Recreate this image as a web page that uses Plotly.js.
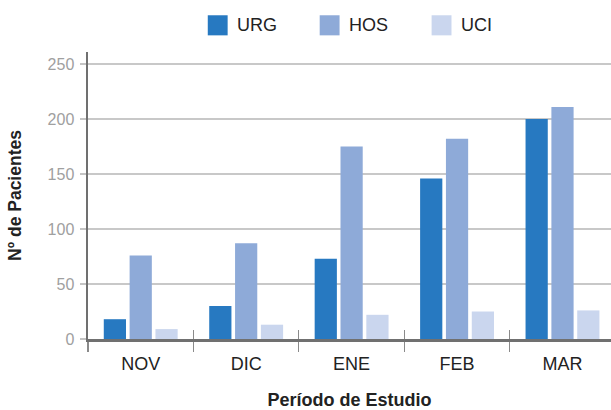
<!DOCTYPE html>
<html>
<head>
<meta charset="utf-8">
<script src="https://cdn.plot.ly/plotly-3.0.1.min.js"></script>
<style>html,body{margin:0;padding:0;background:#fff;}#chart{width:611px;height:410px;}</style>
</head>
<body>
<div id="chart"></div>
<script>
const categories = ["NOV", "DIC", "ENE", "FEB", "MAR"];
const seriesNames = ["URG", "HOS", "UCI"];
const urg = [18, 30, 73, 146, 200];
const hos = [76, 87, 175, 182, 211];
const uci = [9, 13, 22, 25, 26];
const yTicks = [0, 50, 100, 150, 200, 250];
const colors = ["#2779c1", "#8eaad8", "#cad6ee"];

const values = [urg, hos, uci];
const FONT = "Liberation Sans, Arial, Helvetica, sans-serif";

const traces = seriesNames.map((name, i) => ({
  type: "bar",
  name: name,
  x: categories,
  y: values[i],
  marker: { color: colors[i], line: { width: 0 } },
  hoverinfo: "x+y+name"
}));
// invisible trace on overlay axis for inside boundary ticks
traces.push({
  type: "bar", x: categories, y: categories.map(() => 0), xaxis: "x2",
  showlegend: false, hoverinfo: "skip", marker: { color: "rgba(0,0,0,0)" }
});

// custom legend (larger squares)
const legendX0 = 0.229, legendStep = 0.214;
const shapes = [], annotations = [];
seriesNames.forEach((name, i) => {
  const lx = legendX0 + i * legendStep;
  shapes.push({
    type: "rect", xref: "paper", yref: "paper",
    x0: lx, x1: lx + 0.038, y0: 1.058, y1: 1.128,
    fillcolor: colors[i], line: { width: 0 }
  });
  annotations.push({
    xref: "paper", yref: "paper", x: lx + 0.052, y: 1.093,
    xanchor: "left", yanchor: "middle", showarrow: false,
    text: name, font: { family: FONT, size: 18, color: "#222" }
  });
});

const layout = {
  width: 611, height: 410,
  margin: { l: 88, r: 0, t: 52, b: 71 },
  paper_bgcolor: "#fff", plot_bgcolor: "#fff",
  showlegend: false,
  barmode: "group",
  bargap: 0.265,
  bargroupgap: 0.14,
  font: { family: FONT, color: "#222" },
  xaxis: {
    type: "category",
    range: [-0.5, 4.46],
    showline: true, linecolor: "#707070", linewidth: 2.5,
    ticks: "outside", tickson: "boundaries", ticklen: 10, tickwidth: 1.2, tickcolor: "#8a8a8a",
    ticklabelstandoff: 7,
    tickfont: { family: FONT, size: 18, color: "#222" },
    showgrid: false, zeroline: false,
    title: { text: "<b>Período de Estudio</b>", font: { family: FONT, size: 18, color: "#222" }, standoff: 27 },
    fixedrange: true
  },
  xaxis2: {
    type: "category", overlaying: "x", matches: "x", anchor: "y",
    range: [-0.5, 4.46],
    ticks: "inside", tickson: "boundaries", ticklen: 9, tickwidth: 1.2, tickcolor: "#8a8a8a",
    showticklabels: false, showgrid: false, showline: false, zeroline: false
  },
  yaxis: {
    range: [0, 261],
    tickvals: yTicks,
    ticktext: yTicks.map(String),
    showline: true, linecolor: "#707070", linewidth: 2.5,
    ticks: "outside", ticklen: 6, tickcolor: "#c4c4c4", tickwidth: 1.5,
    ticklabelstandoff: 2,
    tickfont: { family: FONT, size: 16, color: "#a0a0a0" },
    showgrid: true, gridcolor: "#c8c8c8", gridwidth: 1.5,
    zeroline: false,
    title: { text: "<b>Nº de Pacientes</b>", font: { family: FONT, size: 17.5, color: "#222" }, standoff: 22 },
    fixedrange: true
  },
  shapes: shapes,
  annotations: annotations
};

Plotly.newPlot("chart", traces, layout, { displayModeBar: false, staticPlot: true });
</script>
</body>
</html>
